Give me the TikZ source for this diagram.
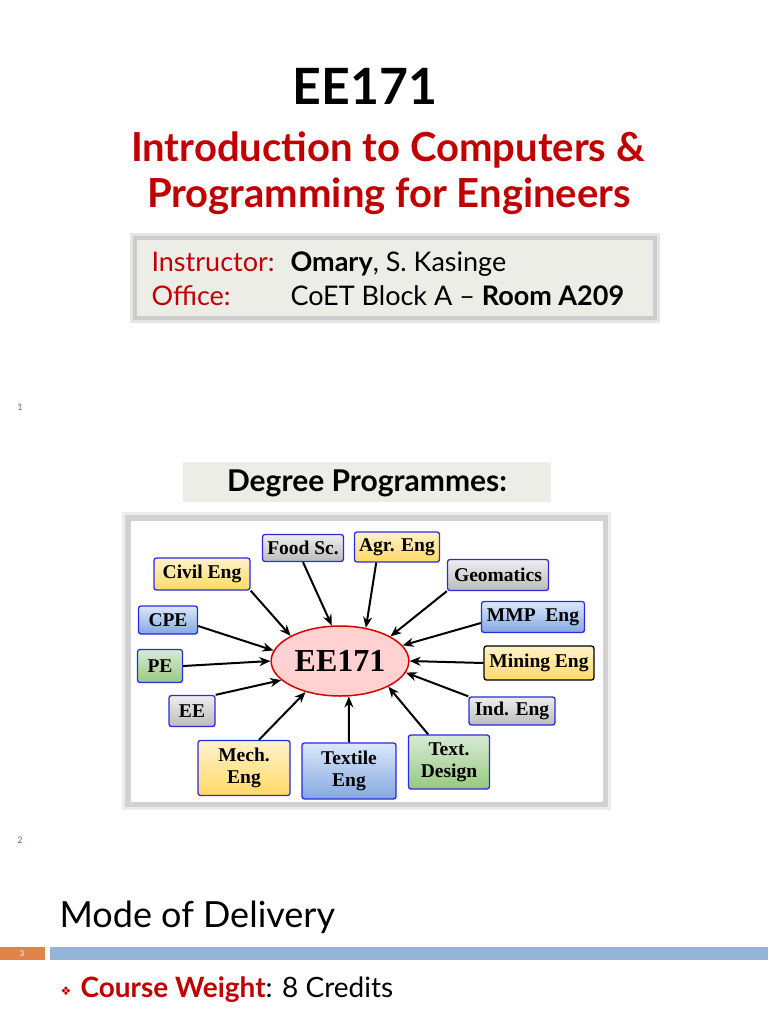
\documentclass[tikz,border=0pt]{standalone}
\usepackage{fontspec}
\setmainfont{Lato}
\newfontfamily\progfont{Liberation Serif}
\newfontfamily\symbfont{DejaVu Sans}
\usetikzlibrary{arrows.meta,shapes.geometric}
\definecolor{slidered}{HTML}{C00000}
\definecolor{panelgray}{HTML}{EDEDE7}
\definecolor{barblue}{HTML}{95B3D7}
\definecolor{barorange}{HTML}{E0844A}
\definecolor{pagenum}{HTML}{8B5E4B}
\definecolor{boxblue}{HTML}{2A2AE0}
\definecolor{graytop}{HTML}{EEEEEE}
\definecolor{graybot}{HTML}{BBBBBB}
\definecolor{yellowtop}{HTML}{FFF2CC}
\definecolor{yellowbot}{HTML}{FFD966}
\definecolor{bluetop}{HTML}{DCE8FA}
\definecolor{bluebot}{HTML}{82A8E0}
\definecolor{greentop}{HTML}{D8EBD6}
\definecolor{greenbot}{HTML}{97C97E}
\begin{document}
\begin{tikzpicture}[x=1pt,y=-1pt,
  prog/.style={draw=boxblue, rounded corners=2.5pt, line width=1.3pt, align=center, inner sep=1pt,
    font=\progfont\bfseries\fontsize{19.5}{22}\selectfont},
  grayprog/.style={prog, top color=graytop, bottom color=graybot},
  yellowprog/.style={prog, top color=yellowtop, bottom color=yellowbot},
  blueprog/.style={prog, top color=bluetop, bottom color=bluebot},
  greenprog/.style={prog, top color=greentop, bottom color=greenbot},
  feed/.style={-{Stealth[length=11pt,width=9pt]}, line width=2pt},
]
\useasboundingbox (0,0) rectangle (768,1024);
\fill[white] (0,0) rectangle (768,1024);
% title
\node[font=\bfseries\fontsize{50}{56}\selectfont] (title) at (365,86) {EE171};
\node[font=\bfseries\fontsize{40}{44}\selectfont, text=slidered] (intro) at (388,150) {Introduction to Computers \&};
\node[font=\bfseries\fontsize{40}{44}\selectfont, text=slidered] (prog) at (389,196) {Programming for Engineers};
% instructor panel
\fill[gray!20] (130,233) rectangle (660,323);
\fill[gray!40] (133,236) rectangle (657,320);
\fill[panelgray] (137,240) rectangle (653,316);
\node[anchor=base west, font=\fontsize{27}{29}\selectfont, text=slidered] (instr) at (148,271) {Instructor:};
\node[anchor=base west, font=\fontsize{27}{29}\selectfont] (name) at (287,271) {\textbf{Omary}, S. Kasinge};
\node[anchor=base west, font=\fontsize{27}{29}\selectfont, text=slidered] (office) at (148,305) {Office:};
\node[anchor=base west, font=\fontsize{27}{29}\selectfont] (room) at (287,305) {CoET Block A -- \textbf{Room A209}};
\node[font=\fontsize{9}{10}\selectfont, text=pagenum] (p1) at (20,407) {1};
% degree programmes
\fill[panelgray] (183,462) rectangle (551,502);
\node[font=\bfseries\fontsize{30}{32}\selectfont] (degree) at (367,483) {Degree Programmes:};
% diagram frame
\fill[gray!15] (122,512) rectangle (611,810);
\fill[gray!35] (125,515) rectangle (608,807);
\fill[white] (131,521) rectangle (603,802);
\node[ellipse, draw=red!85!black, line width=1.5pt, fill=red!18, minimum width=136, minimum height=70,
  font=\progfont\bfseries\fontsize{32}{34}\selectfont] (core) at (340,661) {EE171};
\node[grayprog, minimum width=81, minimum height=27] (food) at (303,548) {Food Sc.};
\node[yellowprog, minimum width=85, minimum height=30] (agr) at (397,547) {Agr. Eng};
\node[yellowprog, minimum width=96, minimum height=32] (civil) at (202,574) {Civil Eng};
\node[grayprog, minimum width=101, minimum height=31] (geo) at (498,575) {Geomatics};
\node[blueprog, minimum width=59, minimum height=28] (cpe) at (168,620) {CPE};
\node[blueprog, minimum width=103, minimum height=31] (mmp) at (533,617) {MMP~ Eng};
\node[greenprog, minimum width=45, minimum height=33] (pe) at (160,666) {PE};
\node[yellowprog, draw=black, minimum width=110, minimum height=34] (mining) at (539,663) {Mining Eng};
\node[grayprog, minimum width=46, minimum height=31] (ee) at (192,711) {EE};
\node[grayprog, minimum width=86, minimum height=28] (ind) at (512,711) {Ind. Eng};
\node[yellowprog, minimum width=92, minimum height=55] (mech) at (244,768) {Mech.\\Eng};
\node[blueprog, minimum width=94, minimum height=56] (textile) at (349,771) {Textile\\Eng};
\node[greenprog, minimum width=81, minimum height=54] (tdes) at (449,762) {Text.\\Design};
\draw[feed] (civil.south east) -- (core.153);
\draw[feed] (food.south) -- (core.103);
\draw[feed] (agr.-143) -- (core.52);
\draw[feed] (geo.south west) -- (core.26);
\draw[feed] ([yshift=-6pt]mmp.west) -- (core.14);
\draw[feed] (mining.west) -- (core.0);
\draw[feed] (ind.north west) -- (core.-10);
\draw[feed] (tdes.127) -- (core.-28);
\draw[feed] (textile.north) -- (core.-76);
\draw[feed] (mech.62) -- (core.-138);
\draw[feed] (ee.north east) -- (core.-162);
\draw[feed] (pe.east) -- (core.180);
\draw[feed] ([yshift=-6pt]cpe.east) -- (core.171);
\node[font=\fontsize{9}{10}\selectfont, text=pagenum] (p2) at (20,840) {2};
% mode of delivery
\node[anchor=base west, font=\fontsize{36}{40}\selectfont] (mode) at (56,927) {Mode of Delivery};
\fill[barorange] (0,947) rectangle (45,960);
\node[font=\fontsize{8}{9}\selectfont, text=white] (p3) at (22,953.5) {3};
\fill[barblue] (50,947) rectangle (768,960);
\node[font=\symbfont\fontsize{12}{14}\selectfont, text=slidered] (bullet) at (66,991) {❖};
\node[anchor=base west, font=\fontsize{28}{30}\selectfont] (weight) at (77,997) {\textcolor{slidered}{\textbf{Course Weight}}: 8 Credits};
\end{tikzpicture}
\end{document}
